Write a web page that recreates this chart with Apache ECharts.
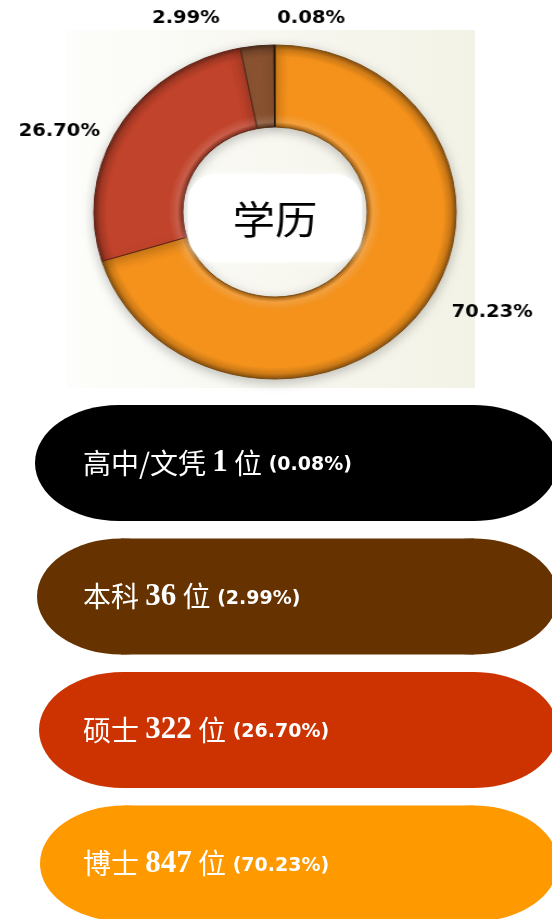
<!DOCTYPE html>
<html>
<head>
<meta charset="utf-8">
<script src="https://cdn.jsdelivr.net/npm/echarts@6/dist/echarts.min.js"></script>
<style>
  html, body { margin: 0; padding: 0; background: #ffffff; }
  #wrap { position: relative; width: 552px; height: 919px; overflow: hidden; }
  #chart { position: absolute; left: 0; top: 0; width: 552px; height: 919px; }
  /* the original donut is a little wider than tall */
  #donut { position: absolute; left: 0; top: 0; width: 552px; height: 400px;
           transform-origin: 275px 212px; transform: scaleX(1.085); }
</style>
</head>
<body>
<div id="wrap">
  <div id="chart"></div>
  <div id="donut"></div>
</div>
<script>
// data, ordered clockwise from 12 o'clock
const levels = ['博士', '硕士', '本科', '高中/文凭'];
const counts = [847, 322, 36, 1];
const shares = [70.23, 26.70, 2.99, 0.08];
const sliceColors = ['#F4921C', '#C1432B', '#8A5230', '#4A2A10'];

// legend pills are listed top to bottom in the opposite order
const pillOrder = [3, 2, 1, 0];
const pillColors = ['#000000', '#663300', '#CC3300', '#FF9900'];

const cx = 275, cy = 212, rOut = 167, rIn = 85;

function shade(hex, f)
{
    const n = parseInt(hex.slice(1), 16);
    let r = (n >> 16) & 255, g = (n >> 8) & 255, b = n & 255;
    if (f < 0) {
        r = r * (1 + f); g = g * (1 + f); b = b * (1 + f);
    } else {
        r = r + (255 - r) * f; g = g + (255 - g) * f; b = b + (255 - b) * f;
    }
    return 'rgb(' + Math.round(r) + ',' + Math.round(g) + ',' + Math.round(b) + ')';
}

function bevel(hex)
{
    const k = rIn / rOut;
    return {
        type: 'radial', x: cx, y: cy, r: rOut, global: true,
        colorStops: [
            { offset: 0, color: shade(hex, -0.4) },
            { offset: k, color: shade(hex, -0.35) },
            { offset: k + 0.03, color: shade(hex, 0.15) },
            { offset: k + 0.08, color: hex },
            { offset: 0.93, color: hex },
            { offset: 0.97, color: shade(hex, -0.15) },
            { offset: 1, color: shade(hex, -0.45) }
        ]
    };
}

// small label nudges so the labels sit where the original puts them
const labelNudge = [[-2, -7], [13, 12], [-14, -14], [84, -13]];

const pieData = levels.map((name, i) => ({
    name: name,
    value: shares[i],
    itemStyle: {
        color: bevel(sliceColors[i]),
        borderColor: shade(sliceColors[i], -0.5),
        borderWidth: 1
    },
    label: { offset: labelNudge[i] }
}));

// pill = two half ellipses joined by a rect
function pill(x0, x1, top, h, rx, fill)
{
    const ry = h / 2;
    return [
        { type: 'ellipse', z: 1, shape: { cx: x0 + rx, cy: top + ry, rx: rx, ry: ry }, style: { fill: fill } },
        { type: 'ellipse', z: 1, shape: { cx: x1 - rx, cy: top + ry, rx: rx, ry: ry }, style: { fill: fill } },
        { type: 'rect', z: 1, shape: { x: x0 + rx, y: top, width: x1 - x0 - 2 * rx, height: h }, style: { fill: fill } }
    ];
}

const pillTop = 405, pillStep = 133.5, pillH = 116;
const pillLeft = [35, 37, 39, 40];
const pageGraphics = [
    {
        type: 'rect', z: -10,
        shape: { x: 67, y: 30, width: 408, height: 358 },
        style: {
            fill: {
                type: 'linear', x: 0, y: 0, x2: 1, y2: 0,
                colorStops: [
                    { offset: 0, color: '#FDFDFB' },
                    { offset: 1, color: '#F3F2E6' }
                ]
            }
        }
    }
];

pillOrder.forEach((idx, row) => {
    const top = pillTop + row * pillStep;
    pill(pillLeft[row], 558, top, pillH, 84, pillColors[row]).forEach((g) => pageGraphics.push(g));
    pageGraphics.push({
        type: 'text', z: 2, x: 83, y: top + pillH / 2,
        style: {
            text: '{c|' + levels[idx] + ' }{n|' + counts[idx] + '}{c| 位}{p| (' + shares[idx].toFixed(2) + '%)}',
            fill: '#ffffff',
            verticalAlign: 'middle',
            rich: {
                c: { font: '28px "Noto Sans CJK SC"', fill: '#ffffff' },
                n: { font: 'bold 31px "Liberation Serif"', fill: '#ffffff' },
                p: { font: 'bold 19px "DejaVu Sans"', fill: '#ffffff', padding: [5, 0, 0, 0] }
            }
        }
    });
});

const chart = echarts.init(document.getElementById('chart'));
chart.setOption({
    backgroundColor: '#ffffff',
    animation: false,
    graphic: pageGraphics
});

const donut = echarts.init(document.getElementById('donut'));
donut.setOption({
    backgroundColor: 'transparent',
    animation: false,
    graphic: [
        {
            type: 'rect', z: 5,
            shape: { x: cx - 80, y: 174, width: 160, height: 88, r: 26 },
            style: { fill: '#ffffff', shadowBlur: 6, shadowColor: 'rgba(255,255,255,0.9)' }
        },
        {
            type: 'text', z: 6, x: cx, y: 219,
            style: {
                text: '学历', fill: '#000000',
                font: '39px "Noto Sans CJK SC"',
                align: 'center', verticalAlign: 'middle'
            }
        }
    ],
    series: [
        {
            type: 'pie',
            center: [cx, cy],
            radius: [rIn, rOut],
            startAngle: 90,
            clockwise: true,
            avoidLabelOverlap: false,
            itemStyle: { shadowBlur: 12, shadowColor: 'rgba(0,0,0,0.25)', shadowOffsetY: 3 },
            label: {
                show: true,
                position: 'outside',
                formatter: (p) => p.value.toFixed(2) + '%',
                color: '#000000',
                fontFamily: 'DejaVu Sans',
                fontWeight: 'bold',
                fontSize: 18
            },
            labelLine: { show: false, length: 14, length2: 14 },
            emphasis: { disabled: true },
            data: pieData
        }
    ]
});
</script>
</body>
</html>
